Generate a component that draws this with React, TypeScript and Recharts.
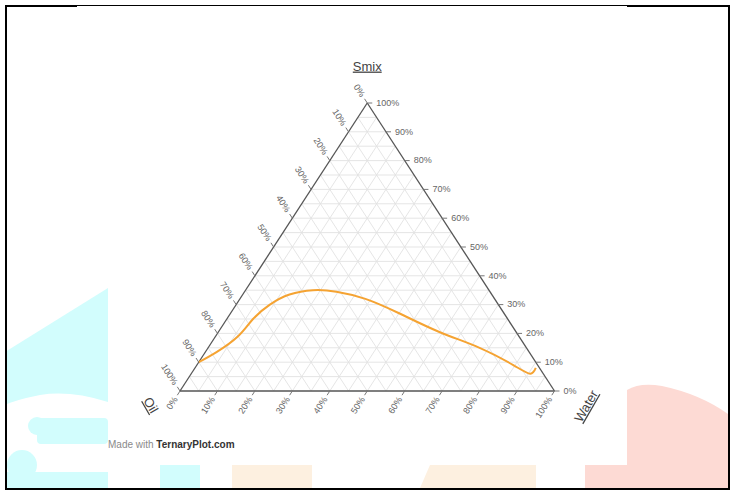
import { ComposedChart, Line, Scatter, XAxis, YAxis } from "recharts";

// Phase boundary, percent composition (oil + smix + water = 100)
const oilPct = [90, 83.5, 75, 68, 61, 54, 47, 41, 34.5, 28, 20.5, 12.5, 6.5, 3.5, 1];
const smixPct = [10, 13.5, 19, 25, 30, 33.5, 35, 34.5, 32, 27, 20.5, 15, 9, 6, 8];
const waterPct = [0, 3, 6, 7, 9, 12.5, 18, 24.5, 33.5, 45, 59, 72.5, 84.5, 90.5, 91];

const tickPct = [0, 10, 20, 30, 40, 50, 60, 70, 80, 90, 100];
const gridPct = [5, 10, 15, 20, 25, 30, 35, 40, 45, 50, 55, 60, 65, 70, 75, 80, 85, 90, 95];

const axisTitles = { top: "Smix", left: "Oil", right: "Water" };

type Pt = { x: number; y: number; label?: string };

// ternary -> cartesian, bottom edge = water axis, apex = smix
const toXY = (oil: number, smix: number, water: number): Pt => {
  const t = oil + smix + water;
  return { x: (water + smix / 2) / t, y: smix / t };
};

const curve = oilPct.map((o, i) => toXY(o, smixPct[i], waterPct[i]));

const gridSegs: Pt[][] = [];
gridPct.forEach((g) => {
  gridSegs.push([toXY(100 - g, g, 0), toXY(0, g, 100 - g)]);
  gridSegs.push([toXY(100 - g, 0, g), toXY(0, 100 - g, g)]);
  gridSegs.push([toXY(g, 0, 100 - g), toXY(g, 100 - g, 0)]);
});

const edges: Pt[][] = [
  [toXY(100, 0, 0), toXY(0, 0, 100)],
  [toXY(0, 0, 100), toXY(0, 100, 0)],
  [toXY(0, 100, 0), toXY(100, 0, 0)],
];

const waterTicks = tickPct.map((t) => ({ ...toXY(100 - t, 0, t), label: `${t}%` }));
const smixTicks = tickPct.map((t) => ({ ...toXY(0, t, 100 - t), label: `${t}%` }));
const oilTicks = tickPct.map((t) => ({ ...toXY(t, 100 - t, 0), label: `${t}%` }));

const corners = [
  { ...toXY(0, 100, 0), label: axisTitles.top },
  { ...toXY(100, 0, 0), label: axisTitles.left },
  { ...toXY(0, 0, 100), label: axisTitles.right },
];

const FONT = "'Liberation Sans', Arial, sans-serif";
const TICK_COLOR = "#777";
const LABEL_COLOR = "#666";

const WaterTick = (p: any) => {
  const { cx, cy, payload } = p;
  const lx = cx - 4.4;
  const ly = cy + 6.8;
  return (
    <g>
      <line x1={cx} y1={cy} x2={cx - 2.7} y2={cy + 4.2} stroke={TICK_COLOR} />
      <text x={lx} y={ly} transform={`rotate(-57 ${lx} ${ly})`} textAnchor="end" dy="0.32em"
        fontSize={9} fill={LABEL_COLOR} fontFamily={FONT}>{payload.label}</text>
    </g>
  );
};

const SmixTick = (p: any) => {
  const { cx, cy, payload } = p;
  return (
    <g>
      <line x1={cx} y1={cy} x2={cx + 5} y2={cy} stroke={TICK_COLOR} />
      <text x={cx + 9} y={cy} dy="0.32em" fontSize={9} fill={LABEL_COLOR} fontFamily={FONT}>{payload.label}</text>
    </g>
  );
};

const OilTick = (p: any) => {
  const { cx, cy, payload } = p;
  const lx = cx - 4.4;
  const ly = cy - 6.8;
  return (
    <g>
      <line x1={cx} y1={cy} x2={cx - 2.7} y2={cy - 4.2} stroke={TICK_COLOR} />
      <text x={lx} y={ly} transform={`rotate(57 ${lx} ${ly})`} textAnchor="end" dy="0.32em"
        fontSize={9} fill={LABEL_COLOR} fontFamily={FONT}>{payload.label}</text>
    </g>
  );
};

// axis names sit off each corner
const titleOffset: Record<string, { dx: number; dy: number; rot: number }> = {
  [axisTitles.top]: { dx: 0, dy: -37, rot: 0 },
  [axisTitles.left]: { dx: -29, dy: 14, rot: 60 },
  [axisTitles.right]: { dx: 31.5, dy: 15, rot: -60 },
};

const CornerTitle = (p: any) => {
  const { cx, cy, payload } = p;
  const o = titleOffset[payload.label];
  const x = cx + o.dx;
  const y = cy + o.dy;
  return (
    <text x={x} y={y} transform={`rotate(${o.rot} ${x} ${y})`} textAnchor="middle" dy="0.35em"
      fontSize={13} fill="#444" fontFamily={FONT} textDecoration="underline">{payload.label}</text>
  );
};

function Backdrop() {
  return (
    <svg width={734} height={492} style={{ position: "absolute", left: 0, top: 0 }}>
      {/* faint watermark shapes */}
      <path d="M5,352 L108,288 L108,402 Q70,390 40,395 Q15,400 5,405 Z" fill="#d2fdfd" />
      <circle cx={37} cy={426} r={9} fill="#d2fdfd" />
      <rect x={37} y={418} width={71} height={26} rx={4} fill="#d2fdfd" />
      <circle cx={22} cy={465} r={15} fill="#d2fdfd" />
      <rect x={5} y={472} width={103} height={16} fill="#d2fdfd" />
      <rect x={160} y={465} width={40} height={23} fill="#d2fdfd" />
      <rect x={232} y={465} width={80} height={23} fill="#fdf0e0" />
      <path d="M420,488 L430,465 L536,465 L536,488 Z" fill="#fdf0e0" />
      <path d="M627,488 L627,390 Q640,382 662,386 Q700,394 728,414 L728,488 Z" fill="#fddad4" />
      <rect x={585} y={465} width={42} height={23} fill="#fddad4" />
      {/* frame */}
      <rect x={5} y={5} width={2} height={485} fill="#000" />
      <rect x={728} y={5} width={2} height={485} fill="#000" />
      <rect x={5} y={488} width={725} height={2} fill="#000" />
      <rect x={5} y={5} width={72} height={2} fill="#000" />
      <rect x={77} y={5} width={550} height={1} fill="#000" />
      <rect x={627} y={5} width={103} height={2} fill="#000" />
      <text x={108} y={448} fontSize={10} fontFamily={FONT}>
        <tspan fill="#8a8a8a">Made with </tspan>
        <tspan fill="#333" fontWeight="bold">TernaryPlot.com</tspan>
      </text>
    </svg>
  );
}

export default function App() {
  return (
    <div style={{ position: "fixed", left: 0, top: 0, width: 734, height: 492, background: "#fff" }}>
      <Backdrop />
      <div style={{ position: "absolute", left: 0, top: 0 }}>
        <ComposedChart width={734} height={492} margin={{ top: 103, right: 179.5, bottom: 101, left: 180 }}>
          <XAxis type="number" dataKey="x" domain={[0, 1]} hide />
          <YAxis type="number" dataKey="y" domain={[0, 1]} hide />
          {gridSegs.map((seg, i) => (
            <Line key={`g${i}`} data={seg} dataKey="y" type="linear" stroke="#e2e2e2" strokeWidth={0.9}
              dot={false} activeDot={false} isAnimationActive={false} />
          ))}
          {edges.map((seg, i) => (
            <Line key={`e${i}`} data={seg} dataKey="y" type="linear" stroke="#555" strokeWidth={1.3}
              dot={false} activeDot={false} isAnimationActive={false} />
          ))}
          <Line data={curve} dataKey="y" type="natural" stroke="#f5a332" strokeWidth={2}
            dot={false} activeDot={false} isAnimationActive={false} />
          <Scatter data={waterTicks} dataKey="y" shape={WaterTick} isAnimationActive={false} />
          <Scatter data={smixTicks} dataKey="y" shape={SmixTick} isAnimationActive={false} />
          <Scatter data={oilTicks} dataKey="y" shape={OilTick} isAnimationActive={false} />
          <Scatter data={corners} dataKey="y" shape={CornerTitle} isAnimationActive={false} />
        </ComposedChart>
      </div>
    </div>
  );
}
